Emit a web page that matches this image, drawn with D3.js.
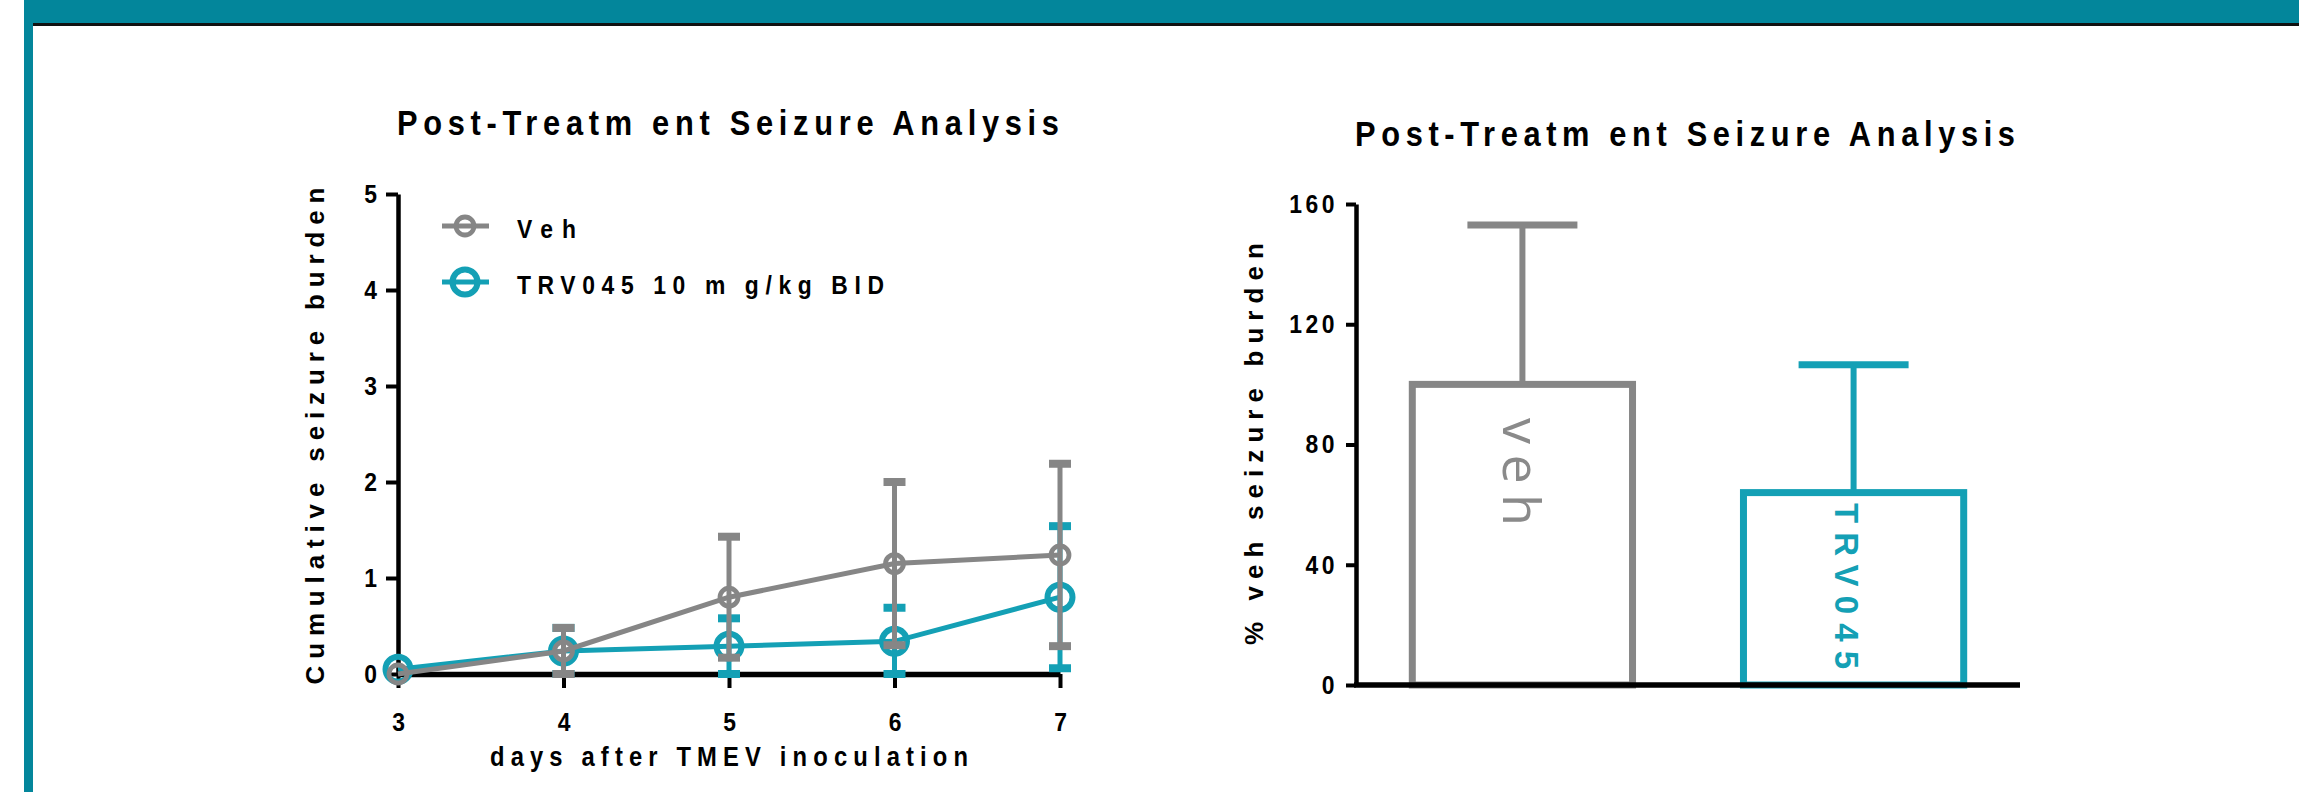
<!DOCTYPE html>
<html>
<head>
<meta charset="utf-8">
<script src="https://cdn.jsdelivr.net/npm/d3@7"></script>
<style>
  html, body { margin: 0; padding: 0; background: #ffffff; }
  svg { display: block; }
</style>
</head>
<body>
<svg id="chart" width="2299" height="792" font-family="'Liberation Sans', Arial, sans-serif" font-weight="bold" fill="#000"></svg>
<script>
// ---------------- data ----------------
const days = [3, 4, 5, 6, 7];
const vehMean = [0.00, 0.24, 0.80, 1.15, 1.24];
const vehSem  = [0.00, 0.24, 0.63, 0.85, 0.95];
const trvMean = [0.05, 0.24, 0.29, 0.34, 0.80];
const trvSem  = [0.00, 0.24, 0.29, 0.35, 0.74];
const seriesNames = ["Veh", "TRV045 10 m g/kg BID"];
const lineYTicks = [0, 1, 2, 3, 4, 5];

const barGroups = ["veh", "TRV045"];
const barMean = [100, 64];
const barSem  = [53, 42.5];
const barYTicks = [0, 40, 80, 120, 160];

const chartTitle = "Post-Treatm ent Seizure Analysis";
const lineXTitle = "days after TMEV inoculation";
const lineYTitle = "Cumulative seizure burden";
const barYTitle = "% veh seizure burden";

// ---------------- styles ----------------
const GRAY = "#868686";
const TEAL = "#14a0b5";
const HEADER = "#03869b";
const SX = 0.88;   // horizontal condensing of horizontal text

const svg = d3.select("#chart");

// header / frame
svg.append("rect").attr("x", 24).attr("y", 0).attr("width", 2275).attr("height", 24).attr("fill", HEADER);
svg.append("rect").attr("x", 24).attr("y", 0).attr("width", 9).attr("height", 792).attr("fill", HEADER);
svg.append("rect").attr("x", 33).attr("y", 23).attr("width", 2266).attr("height", 3).attr("fill", "#111");

function hText(x0, y0, str, size, len) {
  return svg.append("text")
    .attr("transform", `translate(${x0},${y0}) scale(${SX},1)`)
    .attr("font-size", size)
    .attr("textLength", len / SX).attr("lengthAdjust", "spacing")
    .text(str);
}
function styleTicks(g, anchorShift) {
  g.selectAll(".tick text")
    .attr("font-size", 26).attr("fill", "#000")
    .attr("transform", `scale(${SX},1)`)
    .each(function () {
      const t = d3.select(this);
      const xv = +t.attr("x") || 0;
      t.attr("x", (xv + (anchorShift || 0)) / SX);
    });
}

// ================= LEFT: line chart =================
const x = d3.scaleLinear().domain([3, 7]).range([398, 1060]);
const y = d3.scaleLinear().domain([0, 5]).range([674, 194]);

hText(397, 135, chartTitle, 35, 662);

const gyL = svg.append("g").attr("transform", `translate(${x(3)},0)`)
  .call(d3.axisLeft(y).tickValues(lineYTicks).tickFormat(d3.format("d")).tickSize(12).tickSizeOuter(0).tickPadding(9));
const gxL = svg.append("g").attr("transform", `translate(0,${y(0)})`)
  .call(d3.axisBottom(x).tickValues(days).tickFormat(d3.format("d")).tickSize(14).tickSizeOuter(0).tickPadding(25));
[gyL, gxL].forEach(g => {
  g.select(".domain").attr("stroke", "#000");
  g.selectAll(".tick line").attr("stroke", "#000").attr("stroke-width", 4);
});
styleTicks(gyL, 0);
styleTicks(gxL, 0);
gyL.select(".domain").attr("stroke-width", 4.5);
gxL.select(".domain").attr("stroke-width", 5.5);

// axis titles
svg.append("text").attr("transform", `translate(324,${(686 + 186) / 2}) rotate(-90)`)
  .attr("text-anchor", "middle").attr("font-size", 26)
  .attr("textLength", 497).attr("lengthAdjust", "spacing")
  .text(lineYTitle);
hText(490, 766, lineXTitle, 27, 478);

function drawSeries(means, sems, color, r, sw) {
  const g = svg.append("g");
  const pts = days.map((d, i) => ({ d, m: means[i], s: sems[i] }));
  g.append("path").datum(pts)
    .attr("fill", "none").attr("stroke", color).attr("stroke-width", 5)
    .attr("d", d3.line().x(p => x(p.d)).y(p => y(p.m)));
  const eb = g.selectAll("g.eb").data(pts.filter(p => p.s > 0)).join("g");
  eb.append("line")
    .attr("x1", p => x(p.d)).attr("x2", p => x(p.d))
    .attr("y1", p => y(Math.max(0, p.m - p.s))).attr("y2", p => y(p.m + p.s))
    .attr("stroke", color).attr("stroke-width", 5);
  [p => p.m + p.s, p => Math.max(0, p.m - p.s)].forEach(f => {
    eb.append("line")
      .attr("x1", p => x(p.d) - 11).attr("x2", p => x(p.d) + 11)
      .attr("y1", p => y(f(p))).attr("y2", p => y(f(p)))
      .attr("stroke", color).attr("stroke-width", 8);
  });
  g.selectAll("circle").data(pts).join("circle")
    .attr("cx", p => x(p.d)).attr("cy", p => y(p.m)).attr("r", r)
    .attr("fill", "none").attr("stroke", color).attr("stroke-width", sw);
}
drawSeries(trvMean, trvSem, TEAL, 12.5, 6);
drawSeries(vehMean, vehSem, GRAY, 9, 4.8);

// legend
const legend = [
  { name: seriesNames[0], color: GRAY, r: 9, sw: 4.8, y: 226, len: 59 },
  { name: seriesNames[1], color: TEAL, r: 12.5, sw: 6, y: 282, len: 367 }
];
legend.forEach(l => {
  svg.append("line").attr("x1", 442).attr("x2", 489).attr("y1", l.y).attr("y2", l.y)
    .attr("stroke", l.color).attr("stroke-width", 5);
  svg.append("circle").attr("cx", 465).attr("cy", l.y).attr("r", l.r)
    .attr("fill", "none").attr("stroke", l.color).attr("stroke-width", l.sw);
  hText(517, l.y + 12, l.name, 26, l.len);
});

// ================= RIGHT: bar chart =================
const xb = d3.scaleBand().domain(barGroups).range([1356, 2020]).paddingInner(0.335).paddingOuter(0.17);
const yb = d3.scaleLinear().domain([0, 160]).range([685, 204]);

hText(1355, 146, chartTitle, 35, 660);

const barColors = [GRAY, TEAL];
const bars = svg.append("g");
barGroups.forEach((gname, i) => {
  const cx = xb(gname) + xb.bandwidth() / 2;
  bars.append("line").attr("x1", cx).attr("x2", cx)
    .attr("y1", yb(barMean[i])).attr("y2", yb(barMean[i] + barSem[i]))
    .attr("stroke", barColors[i]).attr("stroke-width", 6);
  bars.append("line").attr("x1", cx - 55).attr("x2", cx + 55)
    .attr("y1", yb(barMean[i] + barSem[i])).attr("y2", yb(barMean[i] + barSem[i]))
    .attr("stroke", barColors[i]).attr("stroke-width", 7);
  bars.append("rect").attr("x", xb(gname)).attr("width", xb.bandwidth())
    .attr("y", yb(barMean[i])).attr("height", yb(0) - yb(barMean[i]))
    .attr("fill", "#fff").attr("stroke", barColors[i]).attr("stroke-width", 7);
});

// labels inside bars
svg.append("text").attr("transform", `translate(${xb("veh") + xb.bandwidth() / 2 - 19},418) rotate(90)`)
  .attr("font-family", "'Open Sans', Roboto, sans-serif").attr("font-weight", 400)
  .attr("font-size", 52).attr("fill", "#8a8a8a")
  .attr("textLength", 108).attr("lengthAdjust", "spacing")
  .text(barGroups[0]);
svg.append("text").attr("transform", `translate(${xb("TRV045") + xb.bandwidth() / 2 - 19},503) rotate(90)`)
  .attr("font-size", 33).attr("fill", TEAL)
  .attr("textLength", 166).attr("lengthAdjust", "spacing")
  .text(barGroups[1]);

const gyR = svg.append("g").attr("transform", `translate(1356,0)`)
  .call(d3.axisLeft(yb).tickValues(barYTicks).tickSize(10).tickSizeOuter(0).tickPadding(12));
gyR.select(".domain").attr("stroke", "#000").attr("stroke-width", 4.5);
gyR.selectAll(".tick line").attr("stroke", "#000").attr("stroke-width", 4);
styleTicks(gyR, 4);
gyR.selectAll(".tick text").attr("letter-spacing", 4);
const gxR = svg.append("g").attr("transform", `translate(0,${yb(0)})`)
  .call(d3.axisBottom(xb).tickValues([]).tickSizeOuter(0));
gxR.select(".domain").attr("stroke", "#000").attr("stroke-width", 5.5)
  .attr("d", `M${1354},0H${2020}`);

svg.append("text").attr("transform", `translate(1263,444) rotate(-90)`)
  .attr("text-anchor", "middle").attr("font-size", 26)
  .attr("textLength", 402).attr("lengthAdjust", "spacing")
  .text(barYTitle);
</script>
</body>
</html>
